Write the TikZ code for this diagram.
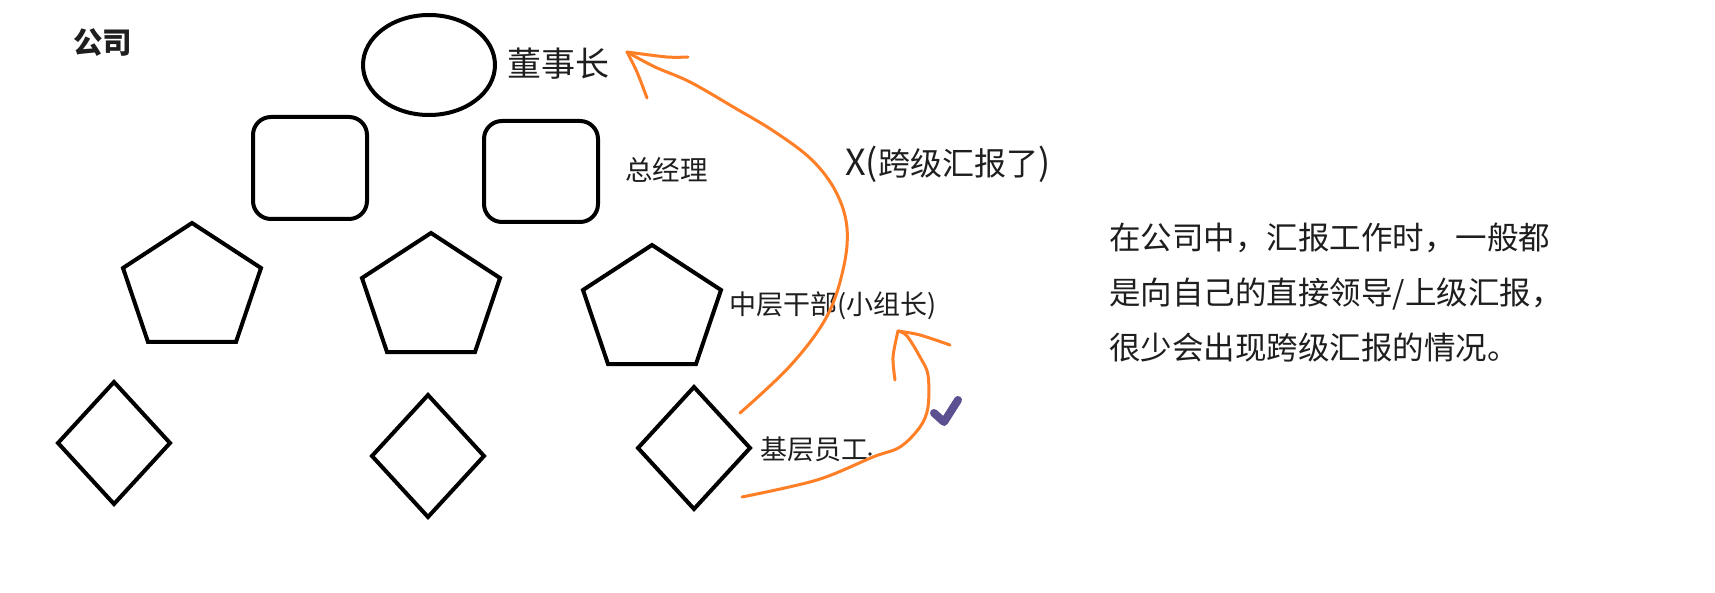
\documentclass[tikz,border=0pt]{standalone}
\usepackage{fontspec}
\setmainfont{Noto Sans CJK SC}
\definecolor{paintorange}{RGB}{255,127,39}
\definecolor{checkpurple}{RGB}{92,80,145}
\definecolor{txt}{RGB}{30,30,30}
\begin{document}
\begin{tikzpicture}[x=1pt,y=-1pt,
  outline/.style={line width=4pt, line join=miter},
  lbl/.style={inner sep=0pt, anchor=west, text=txt},
  hand/.style={draw=paintorange, line width=3pt, line cap=round, line join=round}]
\useasboundingbox (0,0) rectangle (1715,593);
\fill[white] (0,0) rectangle (1715,593);

% title
\node[lbl, font=\bfseries\fontsize{29.5}{34}\selectfont] (company) at (73,42.5) {公司};

% chairman
\draw[outline] (429,65) ellipse [x radius=66, y radius=50];
% general managers
\draw[outline, rounded corners=18pt] (253,117) rectangle (367,219);
\draw[outline, rounded corners=18pt] (484,121) rectangle (598,222);
% middle managers (pentagons)
\foreach \px/\py in {192/221, 431/231, 652/243}
  \draw[outline] (\px,\py+2) -- (\px+69,\py+47) -- (\px+44,\py+121)
     -- (\px-44,\py+121) -- (\px-69,\py+47) -- cycle;
% staff (diamonds)
\foreach \cx/\cy in {114/443, 428/456, 694/448}
  \draw[outline] (\cx,\cy-61) -- (\cx+56,\cy) -- (\cx,\cy+61) -- (\cx-56,\cy) -- cycle;

% labels
\node[lbl, font=\fontsize{34}{40}\selectfont] (chair) at (507,64) {董事长};
\node[lbl, font=\fontsize{27.5}{32}\selectfont] (gm) at (625,170) {总经理};
\node[lbl, font=\fontsize{27}{32}\selectfont] (mid) at (729,306) {中层干部(小组长)};
\node[lbl, font=\fontsize{27}{32}\selectfont] (staff) at (760,449) {基层员工};
\fill[txt] (870,454) circle (1.8);
\node[lbl] (skip) at (845,164) {{\fontsize{36}{40}\selectfont X(}{\fontsize{32}{36}\selectfont 跨级汇报了}{\fontsize{36}{40}\selectfont )}};
\node[lbl, align=left, font=\fontsize{31.5}{55}\selectfont] (para) at (1109,293)
  {在公司中，汇报工作时，一般都\\是向自己的直接领导/上级汇报，\\很少会出现跨级汇报的情况。};

% skip-level report arrow (orange)
\coordinate (bigstart) at (740,413);
\coordinate (bigtip) at (627,52);
\draw[hand] plot[smooth, tension=0.6] coordinates {(bigstart) (790,366) (826,318) (843,270) (847,228) (836,192) (812,160) (775,132) (735,108) (690,82) (655,67) (bigtip)};
\draw[hand] plot[smooth] coordinates {(bigtip) (667,57) (688,57)};
\draw[hand] plot[smooth] coordinates {(bigtip) (637,72) (647,98)};

% direct report arrow (orange)
\coordinate (smallstart) at (742,497);
\coordinate (smalltip) at (898,331);
\draw[hand] plot[smooth, tension=0.55] coordinates {(smallstart) (817,480) (873,457) (900,447) (920,427) (928,407) (928,375) (920,357) (907,336) (smalltip)};
\draw[hand] plot[smooth] coordinates {(smalltip) (893,357) (895,380)};
\draw[hand] plot[smooth] coordinates {(smalltip) (920,335) (950,345)};

% check mark
\draw[checkpurple, line width=8pt, line cap=round, line join=round] (934,413) -- (944,422) -- (958,400);
\end{tikzpicture}
\end{document}
